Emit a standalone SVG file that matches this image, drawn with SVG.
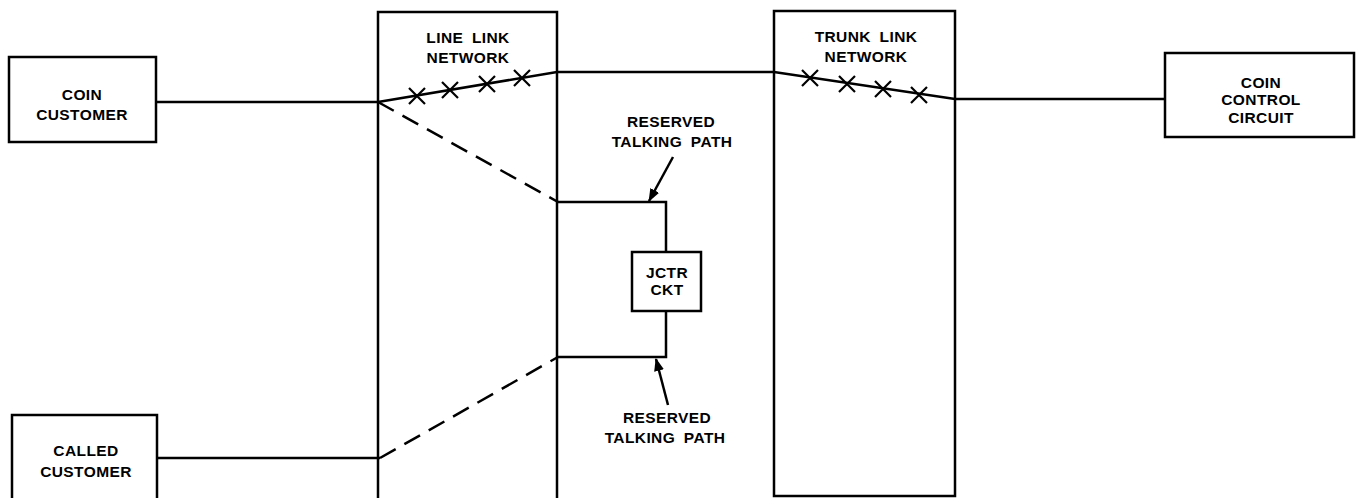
<svg xmlns="http://www.w3.org/2000/svg" width="1363" height="498" viewBox="0 0 1363 498">
<style>
.b{fill:#fff;stroke:#000;stroke-width:2.5}
.l{fill:none;stroke:#000;stroke-width:2.5}
.d{fill:none;stroke:#000;stroke-width:2.5;stroke-dasharray:18,10}
.x{fill:none;stroke:#000;stroke-width:2.2}
text{font-family:"Liberation Sans",Arial,sans-serif;font-weight:bold;font-size:15.5px;text-anchor:middle;fill:#000;letter-spacing:0.4px;word-spacing:4px}
</style>
<defs>
<marker id="ah" markerWidth="13" markerHeight="12" refX="12" refY="6" orient="auto" markerUnits="userSpaceOnUse">
<path d="M0,1 L13,6 L0,11 Z" fill="#000"/>
</marker>
</defs>
<rect width="1363" height="498" fill="#fff"/>
<g id="line-link-network">
<rect class="b" x="378" y="12" width="179" height="500"/>
<text x="468" y="43">LINE LINK</text>
<text x="468" y="63">NETWORK</text>
</g>
<g id="trunk-link-network">
<rect class="b" x="774" y="11" width="181" height="485"/>
<text x="866" y="42">TRUNK LINK</text>
<text x="866" y="62">NETWORK</text>
</g>
<g id="connectors">
<line class="l" x1="156" y1="102" x2="378" y2="102"/>
<polyline class="l" points="378,102 557,72 774,72 955,99 1165,99"/>
<line class="l" x1="158" y1="458" x2="380" y2="458"/>
<line class="d" x1="378" y1="102" x2="558" y2="202"/>
<line class="d" x1="380" y1="458" x2="558" y2="357"/>
<polyline class="l" points="557,202 666,202 666,252"/>
<polyline class="l" points="557,357 666,357 666,311"/>
<line class="l" x1="673" y1="157" x2="649" y2="201" marker-end="url(#ah)"/>
<line class="l" x1="668" y1="405" x2="656" y2="359" marker-end="url(#ah)"/>
</g>
<g id="switches">
<path class="x" d="M409,88 l16,16 M409,104 l16,-16"/>
<path class="x" d="M442,82 l16,16 M442,98 l16,-16"/>
<path class="x" d="M479,76 l16,16 M479,92 l16,-16"/>
<path class="x" d="M514,70 l16,16 M514,86 l16,-16"/>
<path class="x" d="M802,70 l16,16 M802,86 l16,-16"/>
<path class="x" d="M839,76 l16,16 M839,92 l16,-16"/>
<path class="x" d="M875,81 l16,16 M875,97 l16,-16"/>
<path class="x" d="M911,87 l16,16 M911,103 l16,-16"/>
</g>
<g id="coin-customer">
<rect class="b" x="9" y="57" width="147" height="85"/>
<text x="82" y="100">COIN</text>
<text x="82" y="120">CUSTOMER</text>
</g>
<g id="called-customer">
<rect class="b" x="12" y="415" width="145" height="100"/>
<text x="86" y="456">CALLED</text>
<text x="86" y="477">CUSTOMER</text>
</g>
<g id="coin-control-circuit">
<rect class="b" x="1165" y="53" width="189" height="84"/>
<text x="1261" y="88">COIN</text>
<text x="1261" y="105">CONTROL</text>
<text x="1261" y="123">CIRCUIT</text>
</g>
<g id="jctr-ckt">
<rect class="b" x="632" y="252" width="69" height="59"/>
<text x="667" y="278">JCTR</text>
<text x="667" y="295">CKT</text>
</g>
<g id="label-upper">
<text x="671" y="127">RESERVED</text>
<text x="672" y="147">TALKING PATH</text>
</g>
<g id="label-lower">
<text x="667" y="423">RESERVED</text>
<text x="665" y="443">TALKING PATH</text>
</g>
</svg>
